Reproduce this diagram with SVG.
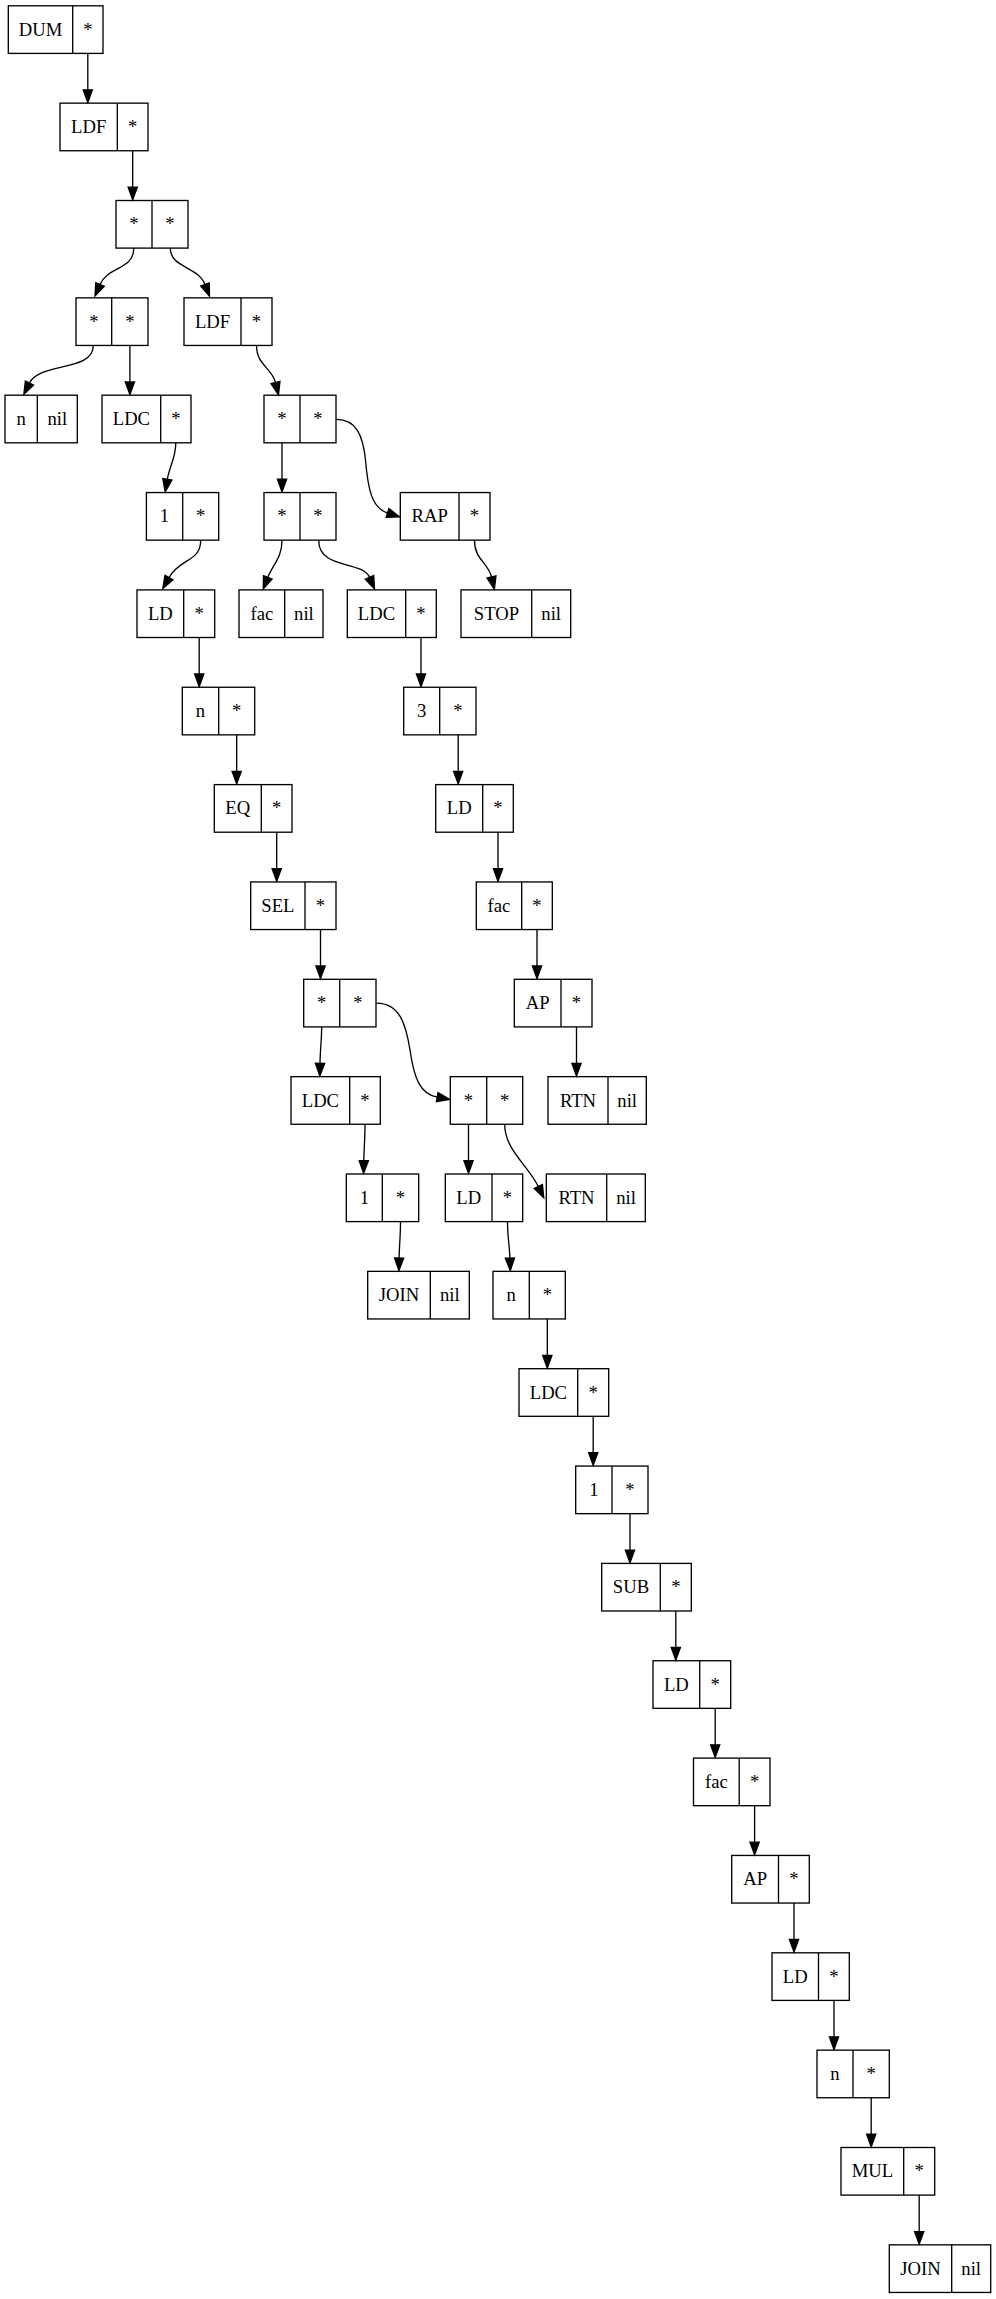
<svg xmlns="http://www.w3.org/2000/svg" width="996" height="2299" viewBox="0 0 996 2299">
<style>
.b{fill:none;stroke:#000;stroke-width:1.33}
.t{font-family:"Liberation Serif","Times New Roman",serif;font-size:18.67px;text-anchor:middle;fill:#000}
.e{fill:none;stroke:#000;stroke-width:1.33;marker-end:url(#ah)}
</style>
<defs>
<marker id="ah" markerUnits="userSpaceOnUse" markerWidth="18" markerHeight="14" viewBox="-2 -7 18 14" refX="0" refY="0" orient="auto" overflow="visible">
<path d="M0,-4.6 L12.6,0 L0,4.6 Z" fill="#000" stroke="#000" stroke-width="1.33"/>
</marker>
</defs>
<rect width="996" height="2299" fill="#fff"/>
<g id="edges">
<path class="e" d="M87.8,53.4 L87.8,89.85"/>
<path class="e" d="M132.7,150.75 L132.7,187.2"/>
<path class="e" d="M133.8,248.1 C133.8,270 108,266 100,284.5"/>
<path class="e" d="M170.3,248.1 C170.3,268 198,266 205,284.5"/>
<path class="e" d="M93.3,345.5 C93.3,372 40,362 29.5,383"/>
<path class="e" d="M129.9,345.45 L129.9,381.9"/>
<path class="e" d="M256.5,345.5 C256.5,365 272,368 275.5,382.5"/>
<path class="e" d="M282,442.8 L282,479.25"/>
<path class="e" d="M336.5,419.3 C356,419.3 363,435 365.5,460 C368,490 372,508 387.5,513"/>
<path class="e" d="M175.8,442.8 C175.8,458 169.5,466 167.3,479.3"/>
<path class="e" d="M200.7,540.2 C200.7,562 180,558 169,577.5"/>
<path class="e" d="M282,540.2 C282,558 273,564 267.8,577.3"/>
<path class="e" d="M318.7,540.2 C318.7,570 362,560 369.5,577.3"/>
<path class="e" d="M474.5,540.2 C474.5,560 488,562 491.5,577"/>
<path class="e" d="M199.2,637.5 L199.2,673.95"/>
<path class="e" d="M421,637.5 L421,673.95"/>
<path class="e" d="M236.7,734.85 L236.7,771.3"/>
<path class="e" d="M458.2,734.85 L458.2,771.3"/>
<path class="e" d="M276.7,832.2 L276.7,868.65"/>
<path class="e" d="M498,832.2 L498,868.65"/>
<path class="e" d="M320.5,929.55 L320.5,966"/>
<path class="e" d="M537,929.55 L537,966"/>
<path class="e" d="M321.7,1026.9 C321.5,1042 320.2,1050 320,1063.35"/>
<path class="e" d="M376.5,1003.1 C400,1003.1 406,1025 410,1050 C414,1078 420,1094 437.2,1097.2"/>
<path class="e" d="M576.5,1026.9 L576.5,1063.35"/>
<path class="e" d="M365,1124.25 C365,1140 364,1148 363.8,1160.7"/>
<path class="e" d="M468.5,1124.25 L468.5,1160.7"/>
<path class="e" d="M504.7,1124.3 C504.7,1150 528,1165 538.3,1186.5"/>
<path class="e" d="M400.5,1221.6 C400.5,1237 399.3,1245 399.1,1258.05"/>
<path class="e" d="M507.5,1221.6 C507.5,1237 509.5,1245 509.9,1258.05"/>
<path class="e" d="M547.3,1318.95 L547.3,1355.4"/>
<path class="e" d="M593.2,1416.3 L593.2,1452.75"/>
<path class="e" d="M630,1513.65 L630,1550.1"/>
<path class="e" d="M675.8,1611 L675.8,1647.45"/>
<path class="e" d="M715.2,1708.35 L715.2,1744.8"/>
<path class="e" d="M754.6,1805.7 L754.6,1842.15"/>
<path class="e" d="M794,1903.05 L794,1939.5"/>
<path class="e" d="M834,2000.4 L834,2036.85"/>
<path class="e" d="M871.2,2097.75 L871.2,2134.2"/>
<path class="e" d="M919.2,2195.1 L919.2,2231.55"/>
</g>
<g id="n0"><rect class="b" x="8.3" y="5.8" width="94.7" height="47.6"/><line class="b" x1="72.7" y1="5.8" x2="72.7" y2="53.4"/><text class="t" x="40.5" y="35.6">DUM</text><text class="t" x="87.8" y="35.6">*</text></g>
<g id="n1"><rect class="b" x="60" y="103.15" width="88" height="47.6"/><line class="b" x1="117.3" y1="103.15" x2="117.3" y2="150.75"/><text class="t" x="88.7" y="133">LDF</text><text class="t" x="132.7" y="133">*</text></g>
<g id="n2"><rect class="b" x="116" y="200.5" width="72" height="47.6"/><line class="b" x1="152" y1="200.5" x2="152" y2="248.1"/><text class="t" x="134" y="230.3">*</text><text class="t" x="170" y="230.3">*</text></g>
<g id="n3"><rect class="b" x="76" y="297.85" width="72" height="47.6"/><line class="b" x1="111.7" y1="297.85" x2="111.7" y2="345.45"/><text class="t" x="93.8" y="327.7">*</text><text class="t" x="129.9" y="327.7">*</text></g>
<g id="n4"><rect class="b" x="184" y="297.85" width="88" height="47.6"/><line class="b" x1="241" y1="297.85" x2="241" y2="345.45"/><text class="t" x="212.5" y="327.7">LDF</text><text class="t" x="256.5" y="327.7">*</text></g>
<g id="n5"><rect class="b" x="5" y="395.2" width="72.3" height="47.6"/><line class="b" x1="37.3" y1="395.2" x2="37.3" y2="442.8"/><text class="t" x="21.2" y="425">n</text><text class="t" x="57.3" y="425">nil</text></g>
<g id="n6"><rect class="b" x="102" y="395.2" width="89" height="47.6"/><line class="b" x1="160.7" y1="395.2" x2="160.7" y2="442.8"/><text class="t" x="131.4" y="425">LDC</text><text class="t" x="175.8" y="425">*</text></g>
<g id="n7"><rect class="b" x="264" y="395.2" width="72" height="47.6"/><line class="b" x1="300" y1="395.2" x2="300" y2="442.8"/><text class="t" x="282" y="425">*</text><text class="t" x="318" y="425">*</text></g>
<g id="n8"><rect class="b" x="146.4" y="492.55" width="72.3" height="47.6"/><line class="b" x1="182.7" y1="492.55" x2="182.7" y2="540.15"/><text class="t" x="164.5" y="522.4">1</text><text class="t" x="200.7" y="522.4">*</text></g>
<g id="n9"><rect class="b" x="264" y="492.55" width="72" height="47.6"/><line class="b" x1="300" y1="492.55" x2="300" y2="540.15"/><text class="t" x="282" y="522.4">*</text><text class="t" x="318" y="522.4">*</text></g>
<g id="n10"><rect class="b" x="400.3" y="492.55" width="89.7" height="47.6"/><line class="b" x1="459" y1="492.55" x2="459" y2="540.15"/><text class="t" x="429.7" y="522.4">RAP</text><text class="t" x="474.5" y="522.4">*</text></g>
<g id="n11"><rect class="b" x="137" y="589.9" width="77.7" height="47.6"/><line class="b" x1="183.7" y1="589.9" x2="183.7" y2="637.5"/><text class="t" x="160.4" y="619.7">LD</text><text class="t" x="199.2" y="619.7">*</text></g>
<g id="n12"><rect class="b" x="239" y="589.9" width="84" height="47.6"/><line class="b" x1="284.7" y1="589.9" x2="284.7" y2="637.5"/><text class="t" x="261.9" y="619.7">fac</text><text class="t" x="303.9" y="619.7">nil</text></g>
<g id="n13"><rect class="b" x="347.3" y="589.9" width="89" height="47.6"/><line class="b" x1="405.7" y1="589.9" x2="405.7" y2="637.5"/><text class="t" x="376.5" y="619.7">LDC</text><text class="t" x="421" y="619.7">*</text></g>
<g id="n14"><rect class="b" x="461" y="589.9" width="109.7" height="47.6"/><line class="b" x1="531.7" y1="589.9" x2="531.7" y2="637.5"/><text class="t" x="496.4" y="619.7">STOP</text><text class="t" x="551.2" y="619.7">nil</text></g>
<g id="n15"><rect class="b" x="182.3" y="687.25" width="72.4" height="47.6"/><line class="b" x1="218.7" y1="687.25" x2="218.7" y2="734.85"/><text class="t" x="200.5" y="717.1">n</text><text class="t" x="236.7" y="717.1">*</text></g>
<g id="n16"><rect class="b" x="403.7" y="687.25" width="72.3" height="47.6"/><line class="b" x1="439.7" y1="687.25" x2="439.7" y2="734.85"/><text class="t" x="421.7" y="717.1">3</text><text class="t" x="457.8" y="717.1">*</text></g>
<g id="n17"><rect class="b" x="214.3" y="784.6" width="77.7" height="47.6"/><line class="b" x1="261.3" y1="784.6" x2="261.3" y2="832.2"/><text class="t" x="237.8" y="814.4">EQ</text><text class="t" x="276.7" y="814.4">*</text></g>
<g id="n18"><rect class="b" x="435.7" y="784.6" width="77.6" height="47.6"/><line class="b" x1="482.7" y1="784.6" x2="482.7" y2="832.2"/><text class="t" x="459.2" y="814.4">LD</text><text class="t" x="498" y="814.4">*</text></g>
<g id="n19"><rect class="b" x="250.7" y="881.95" width="85.3" height="47.6"/><line class="b" x1="305" y1="881.95" x2="305" y2="929.55"/><text class="t" x="277.9" y="911.8">SEL</text><text class="t" x="320.5" y="911.8">*</text></g>
<g id="n20"><rect class="b" x="476.3" y="881.95" width="76" height="47.6"/><line class="b" x1="521.7" y1="881.95" x2="521.7" y2="929.55"/><text class="t" x="499" y="911.8">fac</text><text class="t" x="537" y="911.8">*</text></g>
<g id="n21"><rect class="b" x="303.7" y="979.3" width="72.3" height="47.6"/><line class="b" x1="339.7" y1="979.3" x2="339.7" y2="1026.9"/><text class="t" x="321.7" y="1009.1">*</text><text class="t" x="357.9" y="1009.1">*</text></g>
<g id="n22"><rect class="b" x="514.3" y="979.3" width="77.7" height="47.6"/><line class="b" x1="561" y1="979.3" x2="561" y2="1026.9"/><text class="t" x="537.7" y="1009.1">AP</text><text class="t" x="576.5" y="1009.1">*</text></g>
<g id="n23"><rect class="b" x="291" y="1076.65" width="89.3" height="47.6"/><line class="b" x1="349.7" y1="1076.65" x2="349.7" y2="1124.25"/><text class="t" x="320.4" y="1106.5">LDC</text><text class="t" x="365" y="1106.5">*</text></g>
<g id="n24"><rect class="b" x="450.3" y="1076.65" width="72.4" height="47.6"/><line class="b" x1="486.7" y1="1076.65" x2="486.7" y2="1124.25"/><text class="t" x="468.5" y="1106.5">*</text><text class="t" x="504.7" y="1106.5">*</text></g>
<g id="n25"><rect class="b" x="548" y="1076.65" width="98.3" height="47.6"/><line class="b" x1="608" y1="1076.65" x2="608" y2="1124.25"/><text class="t" x="578" y="1106.5">RTN</text><text class="t" x="627.2" y="1106.5">nil</text></g>
<g id="n26"><rect class="b" x="346.3" y="1174" width="72.4" height="47.6"/><line class="b" x1="382.3" y1="1174" x2="382.3" y2="1221.6"/><text class="t" x="364.3" y="1203.8">1</text><text class="t" x="400.5" y="1203.8">*</text></g>
<g id="n27"><rect class="b" x="445.3" y="1174" width="77.4" height="47.6"/><line class="b" x1="492" y1="1174" x2="492" y2="1221.6"/><text class="t" x="468.7" y="1203.8">LD</text><text class="t" x="507.4" y="1203.8">*</text></g>
<g id="n28"><rect class="b" x="546.3" y="1174" width="99" height="47.6"/><line class="b" x1="606.7" y1="1174" x2="606.7" y2="1221.6"/><text class="t" x="576.5" y="1203.8">RTN</text><text class="t" x="626" y="1203.8">nil</text></g>
<g id="n29"><rect class="b" x="367.7" y="1271.35" width="101.6" height="47.6"/><line class="b" x1="430.3" y1="1271.35" x2="430.3" y2="1318.95"/><text class="t" x="399" y="1301.2">JOIN</text><text class="t" x="449.8" y="1301.2">nil</text></g>
<g id="n30"><rect class="b" x="493" y="1271.35" width="72.3" height="47.6"/><line class="b" x1="529.3" y1="1271.35" x2="529.3" y2="1318.95"/><text class="t" x="511.2" y="1301.2">n</text><text class="t" x="547.3" y="1301.2">*</text></g>
<g id="n31"><rect class="b" x="519" y="1368.7" width="89.7" height="47.6"/><line class="b" x1="577.7" y1="1368.7" x2="577.7" y2="1416.3"/><text class="t" x="548.4" y="1398.5">LDC</text><text class="t" x="593.2" y="1398.5">*</text></g>
<g id="n32"><rect class="b" x="575.7" y="1466.05" width="72.3" height="47.6"/><line class="b" x1="612" y1="1466.05" x2="612" y2="1513.65"/><text class="t" x="593.9" y="1495.9">1</text><text class="t" x="630" y="1495.9">*</text></g>
<g id="n33"><rect class="b" x="601.7" y="1563.4" width="89.6" height="47.6"/><line class="b" x1="660.3" y1="1563.4" x2="660.3" y2="1611"/><text class="t" x="631" y="1593.2">SUB</text><text class="t" x="675.8" y="1593.2">*</text></g>
<g id="n34"><rect class="b" x="653" y="1660.75" width="77.7" height="47.6"/><line class="b" x1="699.7" y1="1660.75" x2="699.7" y2="1708.35"/><text class="t" x="676.4" y="1690.6">LD</text><text class="t" x="715.2" y="1690.6">*</text></g>
<g id="n35"><rect class="b" x="693.5" y="1758.1" width="76.5" height="47.6"/><line class="b" x1="739.2" y1="1758.1" x2="739.2" y2="1805.7"/><text class="t" x="716.4" y="1787.9">fac</text><text class="t" x="754.6" y="1787.9">*</text></g>
<g id="n36"><rect class="b" x="731.7" y="1855.45" width="77.6" height="47.6"/><line class="b" x1="778.5" y1="1855.45" x2="778.5" y2="1903.05"/><text class="t" x="755.1" y="1885.3">AP</text><text class="t" x="794" y="1885.3">*</text></g>
<g id="n37"><rect class="b" x="772" y="1952.8" width="77.3" height="47.6"/><line class="b" x1="818.5" y1="1952.8" x2="818.5" y2="2000.4"/><text class="t" x="795.3" y="1982.6">LD</text><text class="t" x="834" y="1982.6">*</text></g>
<g id="n38"><rect class="b" x="817" y="2050.15" width="72.3" height="47.6"/><line class="b" x1="853" y1="2050.15" x2="853" y2="2097.75"/><text class="t" x="835" y="2080">n</text><text class="t" x="871.2" y="2080">*</text></g>
<g id="n39"><rect class="b" x="841" y="2147.5" width="93.7" height="47.6"/><line class="b" x1="903.7" y1="2147.5" x2="903.7" y2="2195.1"/><text class="t" x="872.4" y="2177.3">MUL</text><text class="t" x="919.2" y="2177.3">*</text></g>
<g id="n40"><rect class="b" x="889.3" y="2244.85" width="101.4" height="47.6"/><line class="b" x1="951.7" y1="2244.85" x2="951.7" y2="2292.45"/><text class="t" x="920.5" y="2274.7">JOIN</text><text class="t" x="971.2" y="2274.7">nil</text></g>
</svg>
